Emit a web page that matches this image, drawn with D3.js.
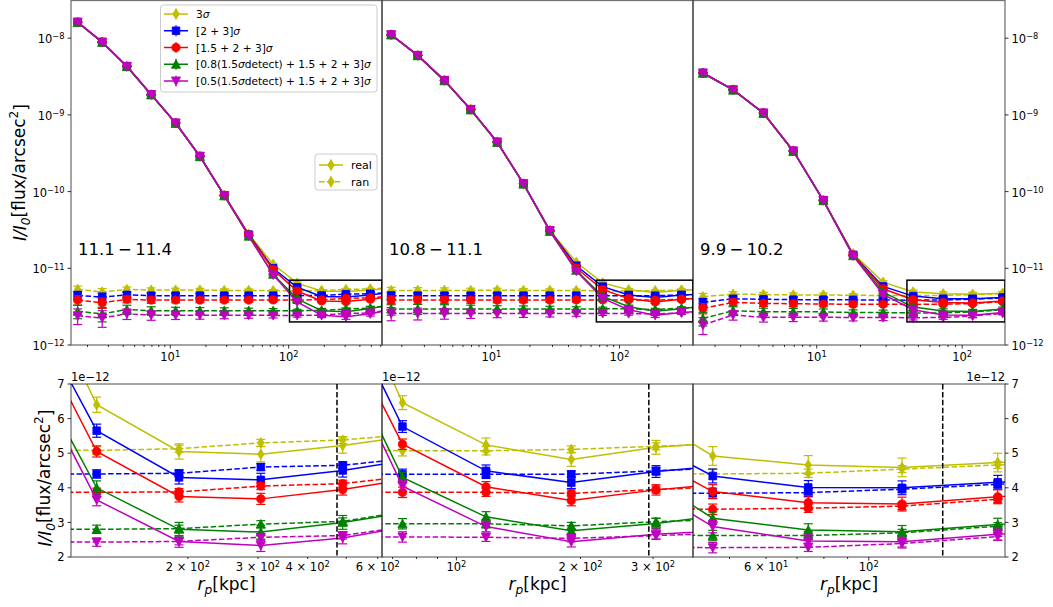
<!DOCTYPE html>
<html>
<head>
<meta charset="utf-8">
<script src="https://cdn.jsdelivr.net/npm/d3@7"></script>
<style>
  body { margin: 0; background: #fff; }
  svg { font-family: "DejaVu Sans", sans-serif; display: block; }
</style>
</head>
<body>
<svg id="fig" width="1053" height="607"></svg>
<script>
// ---------------------------------------------------------------------------
// Surface-brightness profiles I/I0 (units of 1e-12 flux/arcsec^2) vs r_p [kpc]
// for three stellar-mass bins and five masking thresholds; "real" = around
// galaxies, "ran" = around random positions.
// ---------------------------------------------------------------------------
const rp = [1.65, 2.66, 4.3, 6.9, 11.1, 17.8, 28.6, 46, 74, 118, 190, 305, 490, 790];

const massBins = ["11.1\u2009−\u200911.4", "10.8\u2009−\u200911.1", "9.9\u2009−\u200910.2"];
const seriesLabels = ["3σ", "[2 + 3]σ", "[1.5 + 2 + 3]σ",
  "[0.8(1.5σdetect) + 1.5 + 2 + 3]σ", "[0.5(1.5σdetect) + 1.5 + 2 + 3]σ"];
const kindLabels = ["real", "ran"];

// mass bin 11.1 - 11.4 (14 radial bins)
const real1 = [
  [16200, 8900, 4300, 1840, 785, 289, 89.7, 28.0, 11.3, 6.40, 5.05, 4.97, 5.22, 5.56],
  [16200, 8900, 4300, 1840, 785, 289, 89.5, 27.5, 10.0, 5.65, 4.30, 4.23, 4.50, 4.88],
  [16200, 8900, 4300, 1840, 785, 289, 89.3, 27.2, 9.6, 5.05, 3.75, 3.68, 3.95, 4.33],
  [16000, 8800, 4250, 1820, 775, 285, 88.0, 26.2, 8.35, 4.00, 2.80, 2.72, 3.00, 3.38],
  [16200, 8900, 4300, 1840, 785, 289, 89.0, 26.5, 8.2, 3.65, 2.45, 2.33, 2.55, 2.97]
];
const ran1 = [
  [5.30, 4.90, 5.30, 5.20, 5.20, 5.20, 5.15, 5.15, 5.10, 5.08, 5.13, 5.30, 5.38, 5.59],
  [4.45, 4.20, 4.50, 4.40, 4.40, 4.40, 4.40, 4.40, 4.40, 4.40, 4.42, 4.60, 4.65, 4.90],
  [3.85, 3.55, 3.95, 3.85, 3.85, 3.85, 3.85, 3.85, 3.87, 3.87, 3.88, 4.05, 4.12, 4.39],
  [2.75, 2.55, 2.90, 2.80, 2.80, 2.80, 2.80, 2.80, 2.80, 2.80, 2.82, 2.95, 3.03, 3.41],
  [2.40, 2.25, 2.55, 2.45, 2.45, 2.45, 2.45, 2.45, 2.43, 2.43, 2.45, 2.57, 2.62, 2.96]
];
const errReal1 = [0.22, 0.19, 0.16, 0.20, 0.17];
const errRan1 = [0.55, 0.55, 0.40, 0.35, 0.30, 0.28, 0.25, 0.22, 0.18, 0.12, 0.10, 0.10, 0.10, 0.10];

// mass bin 10.8 - 11.1 (13 radial bins)
const real2 = [
  [11100, 5970, 2820, 1180, 443, 127, 31.4, 12.0, 6.46, 5.24, 4.82, 5.17, 5.34],
  [11100, 5970, 2820, 1180, 443, 127, 31.2, 10.8, 5.77, 4.49, 4.15, 4.47, 4.69],
  [11100, 5970, 2820, 1180, 443, 127, 31.0, 10.1, 5.26, 4.03, 3.63, 3.94, 4.16],
  [11000, 5900, 2780, 1160, 437, 125, 30.2, 9.4, 4.30, 3.16, 2.76, 2.97, 3.28],
  [11100, 5970, 2820, 1180, 443, 127, 30.8, 9.2, 4.05, 2.88, 2.44, 2.66, 2.78]
];
const ran2 = [
  [5.15, 5.15, 5.15, 5.15, 5.20, 5.15, 5.15, 5.15, 5.07, 5.07, 5.11, 5.20, 5.30],
  [4.40, 4.40, 4.40, 4.40, 4.40, 4.40, 4.40, 4.40, 4.39, 4.39, 4.39, 4.49, 4.60],
  [3.85, 3.85, 3.85, 3.85, 3.85, 3.85, 3.85, 3.87, 3.87, 3.87, 3.84, 3.95, 4.05],
  [2.95, 2.95, 2.95, 2.95, 2.95, 2.95, 2.95, 2.95, 2.96, 2.96, 2.90, 3.02, 3.10],
  [2.57, 2.57, 2.57, 2.57, 2.57, 2.57, 2.57, 2.57, 2.58, 2.57, 2.54, 2.62, 2.70]
];
const errReal2 = [0.20, 0.17, 0.15, 0.15, 0.15];
const errRan2 = [0.50, 0.45, 0.40, 0.35, 0.30, 0.28, 0.25, 0.20, 0.15, 0.12, 0.10, 0.10, 0.10];

// mass bin 9.9 - 10.2 (12 radial bins)
const real3 = [
  [3520, 2130, 1060, 339, 77, 15.5, 6.6, 4.92, 4.66, 4.59, 4.73, 4.85],
  [3520, 2130, 1060, 339, 77, 15.0, 5.8, 4.34, 4.01, 4.00, 4.16, 4.30],
  [3520, 2130, 1060, 339, 77, 14.9, 5.4, 3.89, 3.57, 3.53, 3.74, 3.90],
  [3480, 2100, 1045, 334, 76, 14.6, 4.9, 3.12, 2.78, 2.73, 2.94, 3.10],
  [3520, 2130, 1060, 339, 77, 14.5, 4.55, 2.88, 2.46, 2.44, 2.66, 2.85]
];
const ran3 = [
  [4.26, 4.60, 4.55, 4.50, 4.50, 4.45, 4.42, 4.40, 4.42, 4.54, 4.66, 4.78],
  [3.60, 4.00, 3.95, 3.90, 3.90, 3.88, 3.86, 3.84, 3.86, 3.96, 4.10, 4.22],
  [3.00, 3.60, 3.49, 3.45, 3.42, 3.40, 3.40, 3.38, 3.41, 3.47, 3.67, 3.80],
  [2.22, 2.80, 2.72, 2.72, 2.70, 2.65, 2.65, 2.62, 2.62, 2.70, 2.89, 3.05],
  [1.82, 2.46, 2.29, 2.30, 2.30, 2.28, 2.28, 2.27, 2.28, 2.39, 2.59, 2.75]
];
const errReal3 = [0.27, 0.20, 0.20, 0.18, 0.18];
const errRan3 = [0.45, 0.35, 0.30, 0.28, 0.25, 0.22, 0.20, 0.15, 0.12, 0.10, 0.10, 0.10];

// reference radius marked in each zoomed panel [kpc]
const refRadius = [474, 293, 144.5];

// labelled ticks on the zoomed x axes
const zoomTickLabels1 = [200, 300, 400, 600];
const zoomTickLabels2 = [100, 200, 300];
const zoomTickLabels3 = [60, 100];
const zoomYTicks = [2, 3, 4, 5, 6, 7];
const fullYTicks = [1, 10, 100, 1000, 10000];

// ---------------------------------------------------------------------------
const colors = ["#bfbf00", "#0000ff", "#ff0000", "#008000", "#bf00bf"];
const markers = ["thinDiamond", "square", "circle", "triUp", "triDown"];

const colLeft = [71, 382, 693];
const colRight = [382, 693, 1005];
const topRange = [345, 0.5];
const botRange = [557, 384];
const topXDomains = [[1.45, 615], [1.40, 375], [1.41, 197]];
const botXDomains = [[101.7, 615], [66, 375], [41.7, 197]];
const topYDomain = [1, 31000];   // 1e-12 .. 3.1e-8
const botYDomain = [2, 7];       // 2e-12 .. 7e-12

const panels = [
  { real: real1, ran: ran1, errReal: errReal1, errRan: errRan1, labels: zoomTickLabels1 },
  { real: real2, ran: ran2, errReal: errReal2, errRan: errRan2, labels: zoomTickLabels2 },
  { real: real3, ran: ran3, errReal: errReal3, errRan: errRan3, labels: zoomTickLabels3 }
];

const svg = d3.select("#fig");
const defs = svg.append("defs");

function markerPath(kind) {
  switch (kind) {
    case "thinDiamond": return "M0,-5.2L3.3,0L0,5.2L-3.3,0Z";
    case "square": return "M-3.8,-3.8H3.8V3.8H-3.8Z";
    case "circle": return "M4.1,0A4.1,4.1 0 1 1 -4.1,0A4.1,4.1 0 1 1 4.1,0Z";
    case "triUp": return "M0,-4.6L4.6,4.0L-4.6,4.0Z";
    case "triDown": return "M0,4.6L4.6,-4.0L-4.6,-4.0Z";
  }
}

function logTicks(domain) {
  const out = [];
  const lo = Math.floor(Math.log10(domain[0])), hi = Math.ceil(Math.log10(domain[1]));
  for (let e = lo; e <= hi; e++) {
    for (let m = 1; m <= 9; m++) {
      const v = m * Math.pow(10, e);
      if (v >= domain[0] * 0.9999 && v <= domain[1] * 1.0001) out.push({ v, m, e });
    }
  }
  return out;
}

function sciText(sel, m, e) {
  if (m !== 1) sel.append("tspan").text(m + " × ");
  sel.append("tspan").text("10");
  sel.append("tspan").attr("dy", "-0.45em").attr("font-size", "0.72em")
    .text(e < 0 ? "−" + (-e) : String(e));
}

function sigmaText(sel, str) {
  const parts = str.split("σ");
  parts.forEach((p, i) => {
    if (p) sel.append("tspan").text(p);
    if (i < parts.length - 1) sel.append("tspan").attr("font-style", "italic").text("σ");
  });
}

function drawSeries(g, x, y, n, vals, errs, color, marker, dashed) {
  const pts = d3.range(n).map(i => ({ r: rp[i], v: vals[i], e: errs[i] }));
  const line = d3.line().x(d => x(d.r)).y(d => y(d.v));
  g.append("path").attr("d", line(pts)).attr("fill", "none")
    .attr("stroke", color).attr("stroke-width", 1.5)
    .attr("stroke-dasharray", dashed ? "5.5,2.4" : null);
  const eb = g.append("g").attr("stroke", color).attr("stroke-width", 1.2).attr("fill", "none");
  pts.forEach(d => {
    const cx = x(d.r), y0 = y(Math.max(d.v - d.e, 1e-6)), y1 = y(d.v + d.e);
    eb.append("line").attr("x1", cx).attr("x2", cx).attr("y1", y0).attr("y2", y1);
    eb.append("line").attr("x1", cx - 4.5).attr("x2", cx + 4.5).attr("y1", y0).attr("y2", y0);
    eb.append("line").attr("x1", cx - 4.5).attr("x2", cx + 4.5).attr("y1", y1).attr("y2", y1);
  });
  g.append("g").selectAll("path").data(pts).join("path")
    .attr("d", markerPath(marker))
    .attr("transform", d => `translate(${x(d.r)},${y(d.v)})`)
    .attr("fill", color).attr("stroke", color).attr("stroke-width", 0.8);
}

function drawAxes(ax, x, y, top, bottom, left, right, opts) {
  // clip region + data
  const id = "clip" + opts.key;
  defs.append("clipPath").attr("id", id).append("rect")
    .attr("x", left).attr("y", top).attr("width", right - left).attr("height", bottom - top);
  const data = ax.append("g").attr("clip-path", `url(#${id})`);
  const p = opts.panel;
  const n = p.real[0].length;
  for (let s = 0; s < 5; s++) {
    const errR = d3.range(n).map(() => p.errReal[s]);
    drawSeries(data, x, y, n, p.real[s], errR, colors[s], markers[s], false);
    drawSeries(data, x, y, n, p.ran[s], p.errRan, colors[s], markers[s], true);
  }
  if (opts.extra) opts.extra(data);

  // x ticks (log)
  const xt = ax.append("g").attr("stroke", "#000").attr("stroke-width", 0.8);
  logTicks(x.domain()).forEach(t => {
    const px = x(t.v);
    xt.append("line").attr("x1", px).attr("x2", px).attr("y1", bottom)
      .attr("y2", bottom + (t.m === 1 ? 3.5 : 2));
  });
  logTicks(x.domain()).filter(t => opts.xLabelTest(t)).forEach(t => {
    const tx = ax.append("text").attr("x", x(t.v)).attr("y", opts.xLabelY)
      .attr("text-anchor", "middle").attr("font-size", 11.5).attr("fill", "#000");
    sciText(tx, t.m, t.e);
  });

  // spines
  ax.append("rect").attr("x", left).attr("y", top).attr("width", right - left)
    .attr("height", bottom - top).attr("fill", "none")
    .attr("stroke", "#000").attr("stroke-opacity", 0.55).attr("stroke-width", 1.3);
}

function drawYTicks(ax, y, ticks, side, xPos, fmt) {
  const g = ax.append("g");
  ticks.forEach(v => {
    const py = y(v);
    g.append("line").attr("x1", xPos).attr("x2", xPos + (side === "left" ? -3.5 : 3.5))
      .attr("y1", py).attr("y2", py).attr("stroke", "#000").attr("stroke-width", 0.8);
    const t = g.append("text").attr("x", side === "left" ? xPos - 6.5 : xPos + 6.5)
      .attr("y", py + fmt.dy).attr("text-anchor", side === "left" ? "end" : "start")
      .attr("font-size", 11.5).attr("fill", "#000");
    fmt.write(t, v);
  });
}

const logFmt = { dy: 5, write: (t, v) => sciText(t, 1, Math.round(Math.log10(v)) - 12) };
const linFmt = { dy: 4.2, write: (t, v) => t.text(String(v)) };

panels.forEach((p, i) => {
  const L = colLeft[i], R = colRight[i];

  // ---- full-range profile (log-log)
  const xTop = d3.scaleLog().domain(topXDomains[i]).range([L, R]);
  const yTop = d3.scaleLog().domain(topYDomain).range(topRange);
  const axTop = svg.append("g");
  const bx = botXDomains[i];
  drawAxes(axTop, xTop, yTop, topRange[1], topRange[0], L, R, {
    key: "t" + i, panel: p, xLabelY: 361,
    xLabelTest: t => t.m === 1,
    extra: g => {
      // outline of the zoomed window shown below
      g.append("rect")
        .attr("x", xTop(bx[0])).attr("y", yTop(botYDomain[1]))
        .attr("width", xTop(bx[1]) - xTop(bx[0]))
        .attr("height", yTop(botYDomain[0]) - yTop(botYDomain[1]))
        .attr("fill", "none").attr("stroke", "#000").attr("stroke-width", 1.5);
    }
  });
  axTop.append("text").attr("x", L + 7).attr("y", 255).attr("font-size", 16.5)
    .attr("fill", "#000").text(massBins[i]);

  // ---- zoom on the outskirts (log x, linear y)
  const xBot = d3.scaleLog().domain(bx).range([L, R]);
  const yBot = d3.scaleLinear().domain(botYDomain).range(botRange);
  const axBot = svg.append("g");
  drawAxes(axBot, xBot, yBot, botRange[1], botRange[0], L, R, {
    key: "b" + i, panel: p, xLabelY: 571,
    xLabelTest: t => p.labels.some(v => Math.abs(v - t.v) < 1e-6),
    extra: g => {
      g.append("line").attr("x1", xBot(refRadius[i])).attr("x2", xBot(refRadius[i]))
        .attr("y1", botRange[1]).attr("y2", botRange[0])
        .attr("stroke", "#000").attr("stroke-width", 1.5).attr("stroke-dasharray", "5.5,2.4");
    }
  });
  const xl = axBot.append("text").attr("x", (L + R) / 2).attr("y", 590)
    .attr("text-anchor", "middle").attr("font-size", 17).attr("fill", "#000");
  xl.append("tspan").attr("font-style", "italic").text("r");
  xl.append("tspan").attr("font-style", "italic").attr("font-size", "0.72em").attr("dy", "0.3em").text("p");
  xl.append("tspan").attr("dy", "-0.22em").text("[kpc]");

  // offset text of the linear axis
  axBot.append("text").attr("x", i === 2 ? R : L).attr("y", 381)
    .attr("text-anchor", i === 2 ? "end" : "start").attr("font-size", 11.5)
    .attr("fill", "#000").text("1e−12");

  if (i === 0) {
    drawYTicks(axTop, yTop, fullYTicks, "left", L, logFmt);
    drawYTicks(axBot, yBot, zoomYTicks, "left", L, linFmt);
  }
  if (i === 2) {
    drawYTicks(axTop, yTop, fullYTicks, "right", R, logFmt);
    drawYTicks(axBot, yBot, zoomYTicks, "right", R, linFmt);
  }
});

// y-axis titles
function yTitle(x, y) {
  const t = svg.append("text").attr("transform", `translate(${x},${y}) rotate(-90)`)
    .attr("text-anchor", "middle").attr("font-size", 17).attr("fill", "#000");
  t.append("tspan").attr("font-style", "italic").text("I/I");
  t.append("tspan").attr("font-style", "italic").attr("font-size", "0.72em").attr("dy", "0.3em").text("0");
  t.append("tspan").attr("dy", "-0.3em").text("[flux/arcsec");
  t.append("tspan").attr("font-size", "0.72em").attr("dy", "-0.5em").text("2");
  t.append("tspan").attr("dy", "0.5em").text("]");
}
yTitle(26, 172.5);
yTitle(51, 478);

// ---- legends (first panel)
function legendBox(x, y, w, h) {
  svg.append("rect").attr("x", x).attr("y", y).attr("width", w).attr("height", h)
    .attr("rx", 3).attr("fill", "#fff").attr("fill-opacity", 0.8)
    .attr("stroke", "#cccccc").attr("stroke-width", 1);
}
function legendHandle(cx, cy, color, marker, dashed) {
  svg.append("line").attr("x1", cx - 12).attr("x2", cx + 12).attr("y1", cy).attr("y2", cy)
    .attr("stroke", color).attr("stroke-width", 1.5)
    .attr("stroke-dasharray", dashed ? "5.5,2.4" : null);
  svg.append("line").attr("x1", cx).attr("x2", cx).attr("y1", cy - 5.5).attr("y2", cy + 5.5)
    .attr("stroke", color).attr("stroke-width", 1.2);
  svg.append("path").attr("d", markerPath(marker)).attr("transform", `translate(${cx},${cy})`)
    .attr("fill", color).attr("stroke", color).attr("stroke-width", 0.8);
}

legendBox(160.5, 5, 216.5, 87);
seriesLabels.forEach((lab, s) => {
  const cy = 14 + s * 16.75;
  legendHandle(176, cy, colors[s], markers[s], false);
  const t = svg.append("text").attr("x", 196).attr("y", cy + 4.2)
    .attr("font-size", 10.6).attr("fill", "#000");
  sigmaText(t, lab);
});

legendBox(315, 154, 62, 36);
kindLabels.forEach((lab, k) => {
  const cy = 165 + k * 16.7;
  legendHandle(331, cy, colors[0], markers[0], k === 1);
  svg.append("text").attr("x", 351).attr("y", cy + 4.2).attr("font-size", 11)
    .attr("fill", "#000").text(lab);
});
</script>
</body>
</html>
